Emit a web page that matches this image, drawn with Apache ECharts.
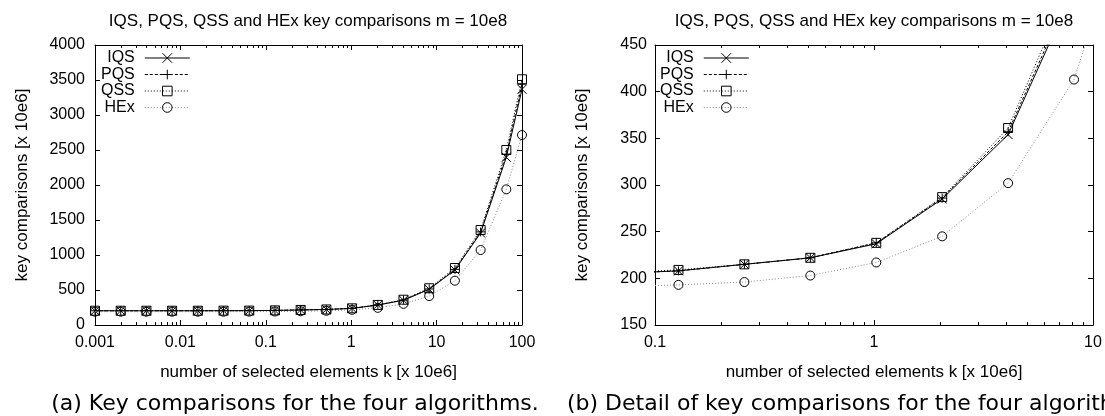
<!DOCTYPE html>
<html>
<head>
<meta charset="utf-8">
<title>IQS, PQS, QSS and HEx key comparisons</title>
<script src="https://cdn.jsdelivr.net/npm/echarts@6/dist/echarts.min.js"></script>
<style>
  html, body { margin: 0; padding: 0; background: #fff; }
  #chart { width: 1105px; height: 416px; }
</style>
</head>
<body>
<div id="chart"></div>
<script>
// number of selected elements k [x 10e6]
const kValues = [0.001, 0.002, 0.004, 0.008, 0.016, 0.032, 0.064, 0.128, 0.256, 0.512,
                 1.024, 2.048, 4.096, 8.192, 16.384, 32.768, 65.536, 100];

// key comparisons [x 10e6]
const iqsValues = [203, 203, 203, 203, 203, 204, 205, 208, 215, 222, 237, 285, 354, 510, 786, 1314, 2396, 3367];
const pqsValues = [203, 203, 203, 203, 203, 204, 205, 208, 215, 222, 238, 286, 357, 515, 795, 1330, 2440, 3440];
const qssValues = [204, 204, 204, 204, 204, 205, 206, 209, 215, 222, 238, 287, 361, 525, 814, 1357, 2500, 3510];
const hexValues = [190, 190, 190, 190, 190, 190, 191, 193, 196, 203, 217, 245, 302, 413, 633, 1071, 1938, 2714];

const seriesNames = ['IQS', 'PQS', 'QSS', 'HEx'];
const seriesValues = [iqsValues, pqsValues, qssValues, hexValues];

const titleText = 'IQS, PQS, QSS and HEx key comparisons m = 10e8';
const xAxisName = 'number of selected elements k [x 10e6]';
const yAxisName = 'key comparisons [x 10e6]';
const captionA = '(a) Key comparisons for the four algorithms.';
const captionB = '(b) Detail of key comparisons for the four algorithms.';

// axis ranges of the overview (left) and detail (right) panels
const overviewX = [0.001, 100];
const overviewY = [0, 4000];
const overviewStep = 500;
const detailX = [0.1, 10];
const detailY = [150, 450];
const detailStep = 50;

// minor ticks at 2..9 inside every decade
const minorMultipliers = [2, 3, 4, 5, 6, 7, 8, 9];
const overviewDecades = [0.001, 0.01, 0.1, 1, 10];
const detailDecades = [0.1, 1];

const FONT = '"Liberation Sans", Arial, Helvetica, sans-serif';
const CAPTION_FONT = '"DejaVu Sans", sans-serif';

const markerStyle = { color: 'none', borderColor: '#000', borderWidth: 1 };
const lineLook = {
  IQS: { symbol: 'path://M0,0L10,10M10,0L0,10', line: { color: '#000', width: 1, type: 'solid' } },
  PQS: { symbol: 'path://M5,0L5,10M0,5L10,5', line: { color: '#000', width: 1, type: [3, 2] } },
  QSS: { symbol: 'path://M0,0L10,0L10,10L0,10Z', line: { color: '#000', width: 1, type: [1, 2] } },
  HEx: { symbol: 'circle', line: { color: '#888', width: 1, type: [1, 2] } }
};

const chart = echarts.init(document.getElementById('chart'), null, { renderer: 'canvas' });

const numFmt = v => String(+Number(v).toPrecision(6));

function xAxes(gridIndex, range) {
  const base = {
    gridIndex, type: 'log', logBase: 10, min: range[0], max: range[1],
    axisLine: { show: true, onZero: false, lineStyle: { color: '#000', width: 1 } },
    axisTick: { show: true, inside: true, length: 5, lineStyle: { color: '#000', width: 1 } },
    minorTick: { show: false },
    splitLine: { show: false }
  };
  return [
    Object.assign({}, base, {
      position: 'bottom',
      axisLabel: { show: true, color: '#000', fontSize: 16, fontFamily: FONT, margin: 10, formatter: numFmt },
      name: xAxisName, nameLocation: 'middle', nameGap: 39,
      nameTextStyle: { color: '#000', fontSize: 17, fontFamily: FONT }
    }),
    Object.assign({}, base, { position: 'top', axisLabel: { show: false } })
  ];
}

function yAxes(gridIndex, range, step, margin) {
  const base = {
    gridIndex, type: 'value', min: range[0], max: range[1], interval: step,
    axisLine: { show: true, onZero: false, lineStyle: { color: '#000', width: 1 } },
    axisTick: { show: true, inside: true, length: 5, lineStyle: { color: '#000', width: 1 } },
    splitLine: { show: false }
  };
  return [
    Object.assign({}, base, {
      position: 'left',
      axisLabel: { show: true, color: '#000', fontSize: 16, fontFamily: FONT, margin, formatter: numFmt },
      name: yAxisName, nameLocation: 'middle', nameGap: 64,
      nameTextStyle: { color: '#000', fontSize: 17, fontFamily: FONT }
    }),
    Object.assign({}, base, { position: 'right', axisLabel: { show: false } })
  ];
}

function lineSeries(xIdx, yIdx) {
  return seriesNames.map((name, i) => ({
    name,
    type: 'line',
    xAxisIndex: xIdx,
    yAxisIndex: yIdx,
    data: kValues.map((k, j) => [k, seriesValues[i][j]]),
    symbol: lineLook[name].symbol,
    symbolSize: 9,
    showSymbol: true,
    showAllSymbol: true,
    clip: true,
    silent: true,
    lineStyle: lineLook[name].line,
    itemStyle: markerStyle,
    emphasis: { disabled: true },
    z: 3 + i
  }));
}

function minorTicks(xIdx, yIdx, decades, yRange) {
  const ticks = [];
  decades.forEach(d => minorMultipliers.forEach(m => ticks.push([d * m, yRange[0]])));
  return {
    type: 'custom',
    xAxisIndex: xIdx,
    yAxisIndex: yIdx,
    silent: true,
    clip: false,
    data: ticks,
    z: 2,
    renderItem: (params, api) => {
      const b = api.coord([api.value(0), yRange[0]]);
      const t = api.coord([api.value(0), yRange[1]]);
      const x = Math.round(b[0]) + 0.5;
      return {
        type: 'group',
        children: [
          { type: 'line', shape: { x1: x, y1: b[1], x2: x, y2: b[1] - 3 }, style: { stroke: '#000', lineWidth: 1 } },
          { type: 'line', shape: { x1: x, y1: t[1], x2: x, y2: t[1] + 3 }, style: { stroke: '#000', lineWidth: 1 } }
        ]
      };
    }
  };
}

function legendFor(left) {
  return {
    orient: 'vertical',
    align: 'right',
    left, top: 50,
    padding: 0,
    itemGap: 0.5,
    itemWidth: 45,
    itemHeight: 12,
    selectedMode: false,
    textStyle: { color: '#000', fontSize: 16, fontFamily: FONT, lineHeight: 16, padding: [0, 5, 0, 0] },
    itemStyle: { color: 'none', borderColor: '#000', borderWidth: 1 },
    data: seriesNames.map(name => ({
      name,
      itemStyle: { color: 'none', borderColor: '#000', borderWidth: 1 },
      lineStyle: Object.assign({}, lineLook[name].line)
    }))
  };
}

const option = {
  animation: false,
  backgroundColor: '#fff',
  title: [
    { text: titleText, left: 308, top: 13, textAlign: 'center', padding: 0,
      textStyle: { color: '#000', fontSize: 17, fontWeight: 'normal', fontFamily: FONT } },
    { text: titleText, left: 874, top: 13, textAlign: 'center', padding: 0,
      textStyle: { color: '#000', fontSize: 17, fontWeight: 'normal', fontFamily: FONT } },
    { text: captionA, left: 295, top: 393, textAlign: 'center', padding: 0,
      textStyle: { color: '#000', fontSize: 22, fontWeight: 'normal', fontFamily: CAPTION_FONT } },
    { text: captionB, left: 567, top: 393, textAlign: 'left', padding: 0,
      textStyle: { color: '#000', fontSize: 22, fontWeight: 'normal', fontFamily: CAPTION_FONT } }
  ],
  legend: [legendFor(101), legendFor(660)],
  grid: [
    { left: 95, top: 45, width: 427, height: 280, containLabel: false, outerBoundsMode: 'none' },
    { left: 655, top: 45, width: 438, height: 280, containLabel: false, outerBoundsMode: 'none' }
  ],
  xAxis: [].concat(xAxes(0, overviewX), xAxes(1, detailX)),
  yAxis: [].concat(yAxes(0, overviewY, overviewStep, 10), yAxes(1, detailY, detailStep, 8)),
  series: [].concat(
    minorTicks(0, 0, overviewDecades, overviewY),
    minorTicks(2, 2, detailDecades, detailY),
    lineSeries(0, 0),
    lineSeries(2, 2)
  )
};

chart.setOption(option);
</script>
</body>
</html>
